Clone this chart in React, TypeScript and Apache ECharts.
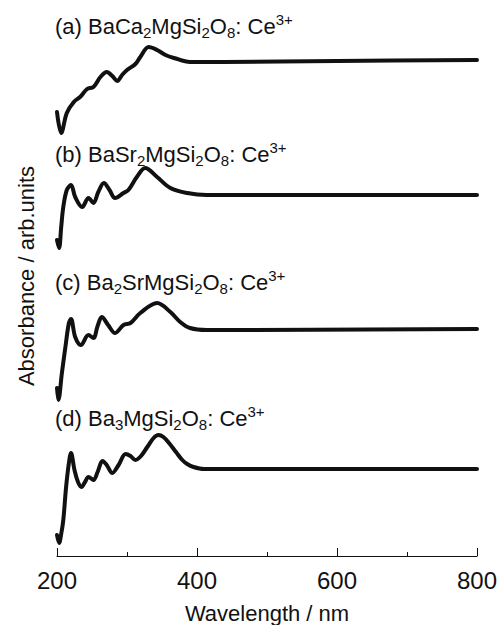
import React, { useEffect, useRef } from "react";
import * as echarts from "echarts";

// Absorption spectra of the four Ce3+-doped silicates, wavelength in nm,
// absorbance in arbitrary units (each trace is shifted upward by its offset).
const nmA = [200, 206, 214, 224, 233, 243, 252, 262, 271, 279, 286, 293, 300, 312, 319, 331, 343, 355, 367, 390, 438, 600, 800];
const absA = [0.35, 0.14, 0.34, 0.45, 0.5, 0.58, 0.6, 0.7, 0.75, 0.71, 0.66, 0.72, 0.77, 0.83, 0.9, 1.0, 0.97, 0.92, 0.89, 0.85, 0.85, 0.86, 0.87];

const nmB = [200, 203, 206, 209, 214, 220, 226, 236, 245, 252, 259, 267, 275, 283, 295, 302, 314, 326, 343, 362, 386, 414, 800];
const absB = [0.42, 0.34, 0.55, 0.75, 0.92, 0.97, 0.85, 0.75, 0.84, 0.79, 0.9, 0.99, 0.92, 0.84, 0.89, 0.92, 1.05, 1.14, 1.05, 0.94, 0.89, 0.87, 0.87];

const nmC = [200, 202, 207, 212, 217, 220, 226, 234, 245, 252, 258, 264, 273, 283, 295, 305, 319, 343, 362, 376, 390, 414, 800];
const absC = [0.28, 0.16, 0.43, 0.69, 0.93, 0.97, 0.79, 0.71, 0.81, 0.78, 0.9, 0.99, 0.91, 0.83, 0.91, 0.93, 1.03, 1.13, 1.04, 0.94, 0.88, 0.86, 0.87];

const nmD = [200, 203, 206, 209, 213, 217, 220, 225, 230, 235, 240, 245, 252, 258, 265, 271, 279, 288, 298, 305, 312, 320, 329, 338, 345, 352, 360, 370, 379, 386, 395, 410, 800];
const absD = [0.21, 0.13, 0.22, 0.36, 0.69, 0.93, 1.03, 0.86, 0.74, 0.69, 0.74, 0.79, 0.76, 0.84, 0.95, 0.91, 0.83, 0.91, 1.02, 1.0, 0.96, 1.0, 1.09, 1.18, 1.21, 1.19, 1.13, 1.04, 0.96, 0.92, 0.89, 0.87, 0.87];

// Vertical offsets used to stack the traces
const offsets = [4.09, 2.74, 1.4, 0];

// Sample names as [style, text] runs: n = normal, sub = subscript, sup = superscript
const sampleLabels: [string, string][][] = [
  [["n", "(a) BaCa"], ["sub", "2"], ["n", "MgSi"], ["sub", "2"], ["n", "O"], ["sub", "8"], ["n", ": Ce"], ["sup", "3+"]],
  [["n", "(b) BaSr"], ["sub", "2"], ["n", "MgSi"], ["sub", "2"], ["n", "O"], ["sub", "8"], ["n", ": Ce"], ["sup", "3+"]],
  [["n", "(c) Ba"], ["sub", "2"], ["n", "SrMgSi"], ["sub", "2"], ["n", "O"], ["sub", "8"], ["n", ": Ce"], ["sup", "3+"]],
  [["n", "(d) Ba"], ["sub", "3"], ["n", "MgSi"], ["sub", "2"], ["n", "O"], ["sub", "8"], ["n", ": Ce"], ["sup", "3+"]],
];

const xTicks = { min: 200, max: 800, interval: 200 };

const FONT = "'Liberation Sans', Arial, Helvetica, sans-serif";
const INK = "#111111";

const labelCenters = [26, 154, 282, 418];

export default function App() {
  const ref = useRef<HTMLDivElement>(null);

  useEffect(() => {
    document.body.style.margin = "0";
    if (!ref.current) return;
    const chart = echarts.init(ref.current, undefined, { renderer: "svg" });

    const spectra = [
      [nmA, absA],
      [nmB, absB],
      [nmC, absC],
      [nmD, absD],
    ];

    const series = spectra.map(([xs, ys], i) => ({
      type: "line" as const,
      data: xs.map((x, k) => [x, ys[k] + offsets[i]]),
      showSymbol: false,
      symbol: "none",
      smooth: 0.35,
      clip: false,
      lineStyle: { color: INK, width: 4, cap: "round", join: "round" },
    }));

    const rich = {
      n: { fontSize: 22, lineHeight: 28, fontFamily: FONT, fill: INK, verticalAlign: "middle" },
      sub: { fontSize: 15, lineHeight: 15, fontFamily: FONT, fill: INK, verticalAlign: "bottom" },
      sup: { fontSize: 15, lineHeight: 15, fontFamily: FONT, fill: INK, verticalAlign: "top" },
    };

    const labelGraphics = sampleLabels.map((runs, i) => ({
      type: "text",
      x: 55,
      y: labelCenters[i],
      style: {
        text: runs.map(([s, t]) => `{${s}|${t}}`).join(""),
        rich,
        align: "left",
        verticalAlign: "middle",
      },
    }));

    chart.setOption({
      animation: false,
      backgroundColor: "#ffffff",
      grid: { left: 57, right: 20, top: 30, bottom: 69, containLabel: false, outerBoundsMode: "none" },
      xAxis: {
        type: "value",
        min: xTicks.min,
        max: xTicks.max,
        interval: xTicks.interval,
        name: "Wavelength / nm",
        nameLocation: "middle",
        nameGap: 46,
        nameTextStyle: { fontSize: 22, fontFamily: FONT, color: INK },
        axisLine: { lineStyle: { color: INK, width: 1 } },
        axisTick: { inside: true, length: 8, lineStyle: { color: INK, width: 1 } },
        minorTick: { show: true, splitNumber: 2, length: 4, lineStyle: { color: INK, width: 1 } },
        axisLabel: { fontSize: 24, fontFamily: FONT, color: INK, margin: 12 },
        splitLine: { show: false },
      },
      yAxis: {
        type: "value",
        min: 0,
        max: 5.26,
        show: false,
      },
      series,
      graphic: [
        ...labelGraphics,
        {
          type: "text",
          x: 26,
          y: 276,
          rotation: Math.PI / 2,
          style: {
            text: "Absorbance / arb.units",
            fontSize: 22,
            fontFamily: FONT,
            fill: INK,
            align: "center",
            verticalAlign: "middle",
          },
        },
      ],
    });

    return () => chart.dispose();
  }, []);

  return <div ref={ref} style={{ width: 497, height: 625 }} />;
}
